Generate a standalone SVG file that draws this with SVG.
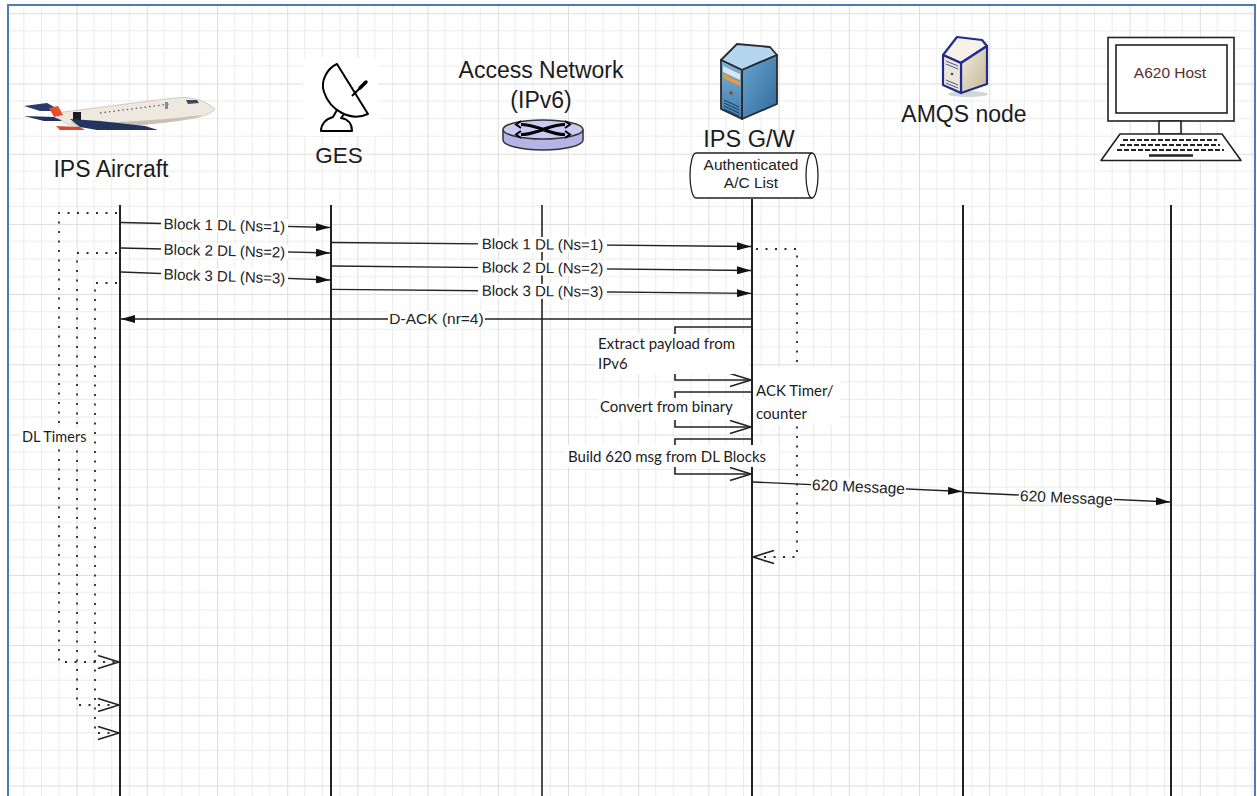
<svg xmlns="http://www.w3.org/2000/svg" width="1257" height="796" viewBox="0 0 1257 796">
  <style>
    .hdr { font-family: "Liberation Sans", Arial, sans-serif; font-size: 23px; fill: #1c1c1c; }
    .msg { font-family: "Liberation Sans", Arial, sans-serif; font-size: 15px; fill: #222; text-anchor: middle; }
    .cal { font-family: Lato, "Liberation Sans", sans-serif; font-size: 15px; fill: #1c1c1c; }
    .life { stroke: #222; stroke-width: 2; fill: none; }
    .line { stroke: #222; stroke-width: 1.3; fill: none; }
    .dots { stroke: #2b2b2b; stroke-width: 1.8; fill: none; stroke-dasharray: 2 7.5; }
    .bg { fill: #ffffff; }
    .edge { stroke: #2a2a2a; stroke-width: 1.8; stroke-linejoin: round; }
  </style>
  <defs>
    <pattern id="grid" x="6.4" y="-56.9" width="70.2" height="70.2" patternUnits="userSpaceOnUse">
      <path d="M17.55 0V70.2M35.1 0V70.2M52.65 0V70.2M0 17.55H70.2M0 35.1H70.2M0 52.65H70.2" stroke="#ececec" stroke-width="1" fill="none"/>
      <path d="M0.5 0V70.2M0 0.5H70.2" stroke="#dddddd" stroke-width="1" fill="none"/>
    </pattern>
    <marker id="solid" viewBox="0 0 14 8" refX="14" refY="4" markerWidth="14" markerHeight="8" markerUnits="userSpaceOnUse" orient="auto">
      <path d="M0,0 L14,4 L0,8 Z" fill="#111"/>
    </marker>
    <marker id="open" viewBox="-1 -1 23 16" refX="21" refY="7" markerWidth="23" markerHeight="16" markerUnits="userSpaceOnUse" orient="auto">
      <path d="M0,0.5 L21,7 L0,13.5" fill="none" stroke="#222" stroke-width="1.7"/>
    </marker>
    <linearGradient id="gwSide" x1="0" y1="0" x2="1" y2="1">
      <stop offset="0" stop-color="#6aa6d2"/>
      <stop offset="1" stop-color="#2f6a9a"/>
    </linearGradient>
    <linearGradient id="gwFront" x1="0" y1="0" x2="0" y2="1">
      <stop offset="0" stop-color="#7fb3da"/>
      <stop offset="1" stop-color="#3f7cae"/>
    </linearGradient>
    <linearGradient id="amqsSide" x1="0" y1="0" x2="1" y2="1">
      <stop offset="0" stop-color="#f3eee2"/>
      <stop offset="1" stop-color="#c4b593"/>
    </linearGradient>
  </defs>

  <!-- drawing sheet -->
  <rect x="0" y="0" width="1257" height="796" fill="#ffffff"/>
  <rect x="8" y="5" width="1247" height="800" fill="url(#grid)"/>
  <rect x="8" y="5" width="1247" height="800" fill="none" stroke="#4a7bbf" stroke-width="2"/>

  <!-- aircraft -->
  <g id="aircraft">
    <path d="M24,106 L47,103 L56,108 L61,111 L40,111 Z" fill="#2a3a6a"/>
    <path d="M24,116 L54,117 L63,121 L44,121 Z" fill="#22305e"/>
    <path d="M55,113 C80,110 140,102 175,98 C190,96 205,100 215,109 C212,113 205,116 195,118 C160,124 110,128 80,127 C68,126 60,121 55,113 Z" fill="#efe8df" stroke="#b9b0a6" stroke-width="0.6"/>
    <path d="M70,122 C110,124 160,120 203,115 C185,122 120,128 80,127 Z" fill="#c9bfb3"/>
    <path d="M49,108 L58,106 L63,115 L54,117 Z" fill="#e2502a"/>
    <rect x="73" y="112" width="8" height="9" fill="#1c1c24"/>
    <path d="M70,119 L100,121 L145,126 L158,130 L130,130 L97,130 L80,127 Z" fill="#25335f"/>
    <path d="M56,126 L80,127 L85,130 L60,130 Z" fill="#d84a30"/>
    <path d="M100,113 L170,104" stroke="#55596a" stroke-width="1.3" stroke-dasharray="1.5 3"/>
    <path d="M186,100 L197,100 L199,103 L188,104 Z" fill="#44485a"/>
    <rect x="165" y="102" width="3" height="7" fill="#8a8a95"/>
    <text class="hdr" x="111" y="177" text-anchor="middle">IPS Aircraft</text>
    <line class="life" x1="120" y1="205" x2="120" y2="796"/>
  </g>

  <!-- ground earth station -->
  <g id="ges">
    <rect x="303" y="58" width="75" height="78" fill="#ffffff"/>
    <path d="M337,110 L333,117 C325,119 321,125 321,131 L352,131 C352,124 348,119 341,118 L345,113" fill="#fff" stroke="#000" stroke-width="2" stroke-linejoin="round"/>
    <path d="M337,64 L368,114 C350,122 330,110 324,92 C320,80 328,68 337,64 Z" fill="#fff" stroke="#000" stroke-width="2" stroke-linejoin="round"/>
    <path d="M352,96 L363,85" stroke="#000" stroke-width="2"/>
    <path d="M360,88 L366,82" stroke="#000" stroke-width="3.5" stroke-linecap="round"/>
    <text class="hdr" x="339" y="163" text-anchor="middle" style="font-size:22.5px">GES</text>
    <line class="life" x1="331" y1="205" x2="331" y2="796"/>
  </g>

  <!-- access network router -->
  <g id="access-network">
    <text class="hdr" x="541" y="78" text-anchor="middle">Access Network</text>
    <text class="hdr" x="541" y="108" text-anchor="middle">(IPv6)</text>
    <path d="M503,129.5 V140 A40,10 0 0 0 583,140 V129.5" fill="#b4b4e6" stroke="#333" stroke-width="1.5"/>
    <ellipse cx="543" cy="129.5" rx="40" ry="9.5" fill="#cacaf4" stroke="#333" stroke-width="1.5"/>
    <path d="M521,124.5 C529,124.5 534,126.5 543,129.5 C552,132.5 557,134.5 565,134.5 M521,134.5 C529,134.5 534,132.5 543,129.5 C552,126.5 557,124.5 565,124.5" stroke="#000" stroke-width="3.2" fill="none"/>
    <path d="M521,121 L516,124.5 L521,128 M521,131 L516,134.5 L521,138 M565,121 L570,124.5 L565,128 M565,131 L570,134.5 L565,138" stroke="#000" stroke-width="2" fill="none"/>
    <line class="life" x1="542" y1="205" x2="542" y2="796" style="stroke-width:1.6"/>
  </g>

  <!-- IPS gateway server -->
  <g id="ips-gw">
    <path d="M721,60 L737,44 L770,47 L777,55 L742,70 Z" fill="#b3d6ee" class="edge"/>
    <path d="M742,70 L777,55 L777,104 L742,119 Z" fill="url(#gwSide)" class="edge"/>
    <path d="M721,60 L742,70 L742,119 L721,109 Z" fill="url(#gwFront)" class="edge"/>
    <path d="M723,66 L740,74 L740,80 L723,72 Z" fill="#dfe4e8"/>
    <path d="M723,74 L740,82 L740,86 L723,78 Z" fill="#f09a30"/>
    <circle cx="731" cy="93" r="1.8" fill="#8a4a10"/>
    <path d="M724,100 L739,107 M724,103 L739,110 M724,106 L739,113 M724,109 L739,116" stroke="#1d3b58" stroke-width="1"/>
    <text class="hdr" x="749" y="147" text-anchor="middle" style="font-size:23.5px">IPS G/W</text>
    <path d="M696,153 L812,153 A6,22.5 0 0 1 812,198 L696,198 A6,22.5 0 0 1 696,153 Z" fill="#fff" stroke="#222" stroke-width="1.3"/>
    <path d="M812,153 A6,22.5 0 0 0 812,198" fill="none" stroke="#222" stroke-width="1.3"/>
    <text class="msg" x="751" y="170" style="font-size:15.5px">Authenticated</text>
    <text class="msg" x="751" y="188" style="font-size:15.5px">A/C List</text>
    <line class="life" x1="752" y1="199" x2="752" y2="796"/>
  </g>

  <!-- AMQS node server -->
  <g id="amqs-node">
    <ellipse cx="968" cy="94" rx="20" ry="3" fill="#d4d4d4"/>
    <path d="M943,55 L957,37 L982,40 L987,46 L961,63 Z" fill="#f6f2ea" stroke="#1f2b8e" stroke-width="2.2" stroke-linejoin="round"/>
    <path d="M961,63 L987,46 L987,84 L961,93 Z" fill="url(#amqsSide)" stroke="#1f2b8e" stroke-width="2.2" stroke-linejoin="round"/>
    <path d="M943,55 L961,63 L961,93 L943,85 Z" fill="#ece6d8" stroke="#1f2b8e" stroke-width="2.2" stroke-linejoin="round"/>
    <path d="M946,61 L958,66 M946,64 L958,69" stroke="#4a5598" stroke-width="1"/>
    <circle cx="952" cy="74" r="1.3" fill="#3a4590"/>
    <path d="M946,80 L958,85 M946,83 L958,88" stroke="#4a5598" stroke-width="1"/>
    <text class="hdr" x="964" y="122" text-anchor="middle">AMQS node</text>
    <line class="life" x1="963" y1="205" x2="963" y2="796"/>
  </g>

  <!-- A620 host terminal -->
  <g id="a620-host">
    <rect x="1108" y="37.5" width="126" height="83.5" fill="#fff" stroke="#222" stroke-width="1.6"/>
    <rect x="1116" y="45" width="111" height="68" fill="#fff" stroke="#222" stroke-width="1.6"/>
    <rect x="1159" y="121" width="22" height="13" fill="#fff" stroke="#222" stroke-width="1.6"/>
    <path d="M1120,134 L1222,134 L1241,160.5 L1101,160.5 Z" fill="#fff" stroke="#222" stroke-width="1.6" stroke-linejoin="round"/>
    <path d="M1123,140 H1217 M1120,145 H1220 M1117,150 H1224" stroke="#222" stroke-width="2.2" stroke-dasharray="5 2"/>
    <path d="M1149,155.5 H1193" stroke="#222" stroke-width="2.5"/>
    <text x="1170" y="78" text-anchor="middle" style="font-family:'Liberation Sans',Arial,sans-serif;font-size:15.5px;fill:#5a2e2e">A620 Host</text>
    <line class="life" x1="1171" y1="205" x2="1171" y2="796"/>
  </g>

  <!-- messages, self-calls and timers -->
  <g id="connectors">
    <!-- aircraft to GES -->
    <path class="line" d="M121,222.5 L330,227.5" marker-end="url(#solid)"/>
    <path class="line" d="M121,248 L330,253" marker-end="url(#solid)"/>
    <path class="line" d="M121,272 L330,280" marker-end="url(#solid)"/>
    <g transform="rotate(1.4 224.5 225)"><rect class="bg" x="161" y="218" width="127" height="15"/><text class="msg" x="224.5" y="230.5">Block 1 DL (Ns=1)</text></g>
    <g transform="rotate(1.4 224.5 250.5)"><rect class="bg" x="161" y="243.5" width="127" height="15"/><text class="msg" x="224.5" y="256">Block 2 DL (Ns=2)</text></g>
    <g transform="rotate(2 224.5 276)"><rect class="bg" x="161" y="269" width="127" height="15"/><text class="msg" x="224.5" y="281.5">Block 3 DL (Ns=3)</text></g>

    <!-- GES to gateway -->
    <path class="line" d="M332,242.5 L751,246.5" marker-end="url(#solid)"/>
    <path class="line" d="M332,266 L751,270.5" marker-end="url(#solid)"/>
    <path class="line" d="M332,289.3 L751,293.3" marker-end="url(#solid)"/>
    <g transform="rotate(0.55 542.5 244)"><rect class="bg" x="478" y="237" width="129" height="15"/><text class="msg" x="542.5" y="249.5">Block 1 DL (Ns=1)</text></g>
    <g transform="rotate(0.55 542.5 267.5)"><rect class="bg" x="478" y="260.5" width="129" height="15"/><text class="msg" x="542.5" y="273">Block 2 DL (Ns=2)</text></g>
    <g transform="rotate(0.55 542.5 290.8)"><rect class="bg" x="478" y="283.8" width="129" height="15"/><text class="msg" x="542.5" y="296.3">Block 3 DL (Ns=3)</text></g>

    <!-- acknowledgement back to aircraft -->
    <path class="line" d="M751,319 L121,319" marker-end="url(#solid)"/>
    <rect class="bg" x="388" y="311" width="97" height="15"/>
    <text class="msg" x="436.5" y="324" style="font-size:15.5px">D-ACK (nr=4)</text>

    <!-- gateway processing steps -->
    <path class="line" d="M751,327 H675 V380 H751" style="stroke-width:1.6" marker-end="url(#open)"/>
    <rect class="bg" x="596" y="334" width="153" height="40"/>
    <text class="cal" x="598" y="348.5">Extract payload from</text>
    <text class="cal" x="598" y="368.5">IPv6</text>

    <path class="line" d="M751,392 H675 V427 H751" style="stroke-width:1.6" marker-end="url(#open)"/>
    <rect class="bg" x="598" y="398" width="150" height="22"/>
    <text class="cal" x="600" y="412">Convert from binary</text>

    <path class="line" d="M751,439 H675 V474 H751" style="stroke-width:1.6" marker-end="url(#open)"/>
    <rect class="bg" x="566" y="445" width="213" height="22"/>
    <text class="cal" x="568" y="462">Build 620 msg from DL Blocks</text>

    <!-- 620 message forwarding -->
    <path class="line" d="M753,482 L962,491.5" marker-end="url(#solid)"/>
    <path class="line" d="M964,492.5 L1170,502" marker-end="url(#solid)"/>
    <g transform="rotate(2.6 858.5 486.5)"><rect class="bg" x="811" y="479" width="95" height="15"/><text class="msg" x="858.5" y="492" style="font-size:15.5px">620 Message</text></g>
    <g transform="rotate(2.6 1066.5 497.5)"><rect class="bg" x="1019" y="490" width="95" height="15"/><text class="msg" x="1066.5" y="503" style="font-size:15.5px">620 Message</text></g>

    <!-- ACK timer loop at the gateway -->
    <path class="dots" d="M756,249 H797 V557 H753" marker-end="url(#open)"/>
    <rect class="bg" x="754" y="367" width="86" height="58"/>
    <text class="cal" x="756" y="396">ACK Timer/</text>
    <text class="cal" x="756" y="418.5">counter</text>

    <!-- downlink timers on the aircraft -->
    <path class="dots" d="M117,213 H59 V662 H119" marker-end="url(#open)"/>
    <path class="dots" d="M117,253 H77 V705 H119" marker-end="url(#open)"/>
    <path class="dots" d="M117,283 H95 V733 H119" marker-end="url(#open)"/>
    <rect class="bg" x="20" y="428" width="71" height="20"/>
    <text class="cal" x="22" y="442" style="font-size:14.5px">DL Timers</text>
  </g>
</svg>
